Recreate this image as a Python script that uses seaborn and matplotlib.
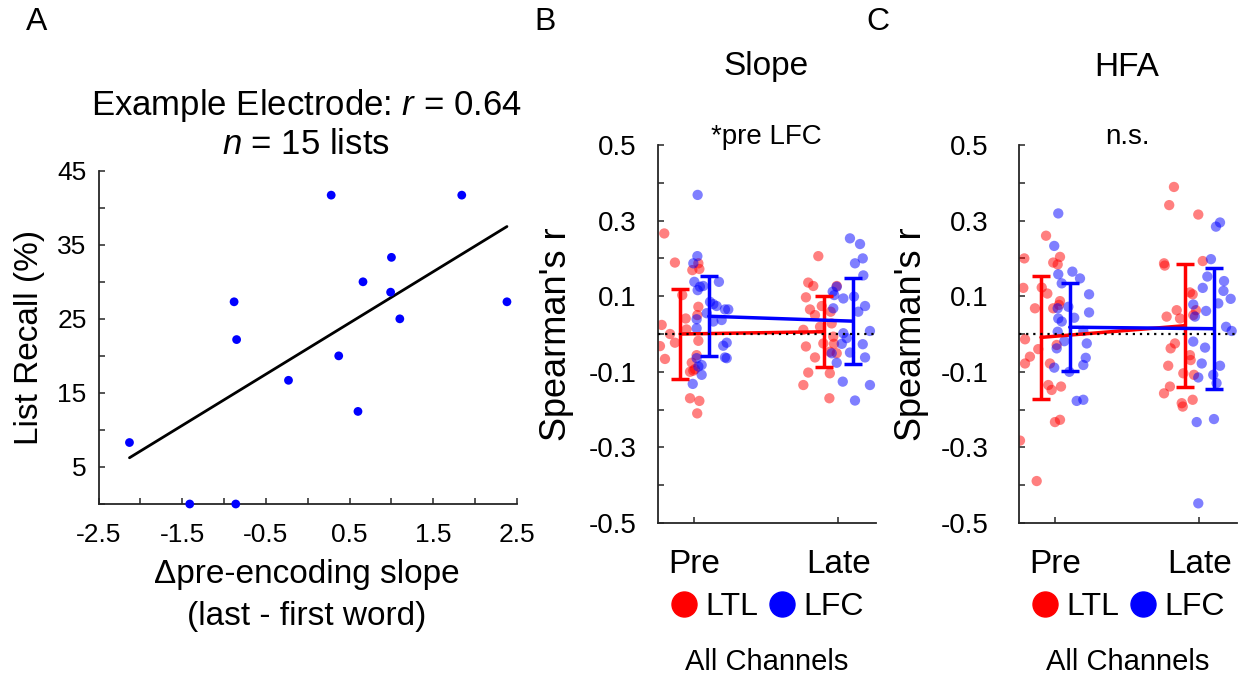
import numpy as np
import pandas as pd
import matplotlib
matplotlib.use("Agg")
import matplotlib.pyplot as plt
import seaborn as sns
from matplotlib.lines import Line2D

# ---------------- data ----------------
# Panel A: example electrode
slope_delta = [0.28, 1.84, 1.00, 0.66, 0.99, -0.88, 2.38, 1.10, -0.85, 0.37, -0.23, 0.60, -2.13, -1.41, -0.86]
list_recall = [41.7, 41.7, 33.3, 30.0, 28.6, 27.3, 27.3, 25.0, 22.2, 20.0, 16.7, 12.5, 8.3, 0.0, 0.0]

periods = ["Pre", "Late"]
regions = ["LTL", "LFC"]

# Panel B (Slope): Spearman's r per channel, with horizontal jitter
slope_pre_ltl = [0.266, 0.189, 0.169, 0.172, 0.187, 0.103, 0.072, 0.050, 0.041, 0.024, 0.012, 0.000,
                 -0.023, -0.032, -0.018, -0.066, -0.056, -0.076, -0.093, -0.100, -0.097, -0.170, -0.177, -0.210]
slope_pre_ltl_jit = [-0.21, -0.136, -0.015, 0.034, 0.027, -0.085, 0.027, 0.02, -0.061, -0.228, -0.055, -0.17,
                     -0.136, -0.24, 0.027, -0.205, 0.015, -0.019, 0.003, -0.031, -0.008, -0.031, 0.034, 0.019]
slope_pre_lfc = [0.368, 0.206, 0.187, 0.138, 0.125, 0.116, 0.127, 0.138, 0.085, 0.079, 0.074, 0.065, 0.065,
                 0.055, 0.033, 0.037, 0.039, 0.015, -0.023, -0.031, -0.062, -0.064, -0.064, -0.082, -0.086,
                 -0.108, -0.132]
slope_pre_lfc_jit = [0.022, 0.02, -0.008, -0.001, 0.038, 0.022, 0.061, 0.17, 0.108, 0.131, 0.154, 0.212, 0.235,
                     0.085, 0.131, 0.189, 0.015, 0.015, 0.224, 0.2, 0.212, 0.224, 0.015, 0.05, 0.027,
                     0.05, -0.012]
slope_late_ltl = [0.206, 0.136, 0.127, 0.097, 0.127, 0.074, 0.065, 0.059, 0.050, 0.028, 0.011, 0.019,
                  -0.025, -0.007, -0.026, -0.033, -0.062, -0.051, -0.047, -0.102, -0.104, -0.135, -0.170]
slope_late_ltl_jit = [-0.139, -0.209, -0.174, -0.225, -0.011, -0.115, -0.197, -0.053, -0.162, -0.046, -0.243,
                      -0.127, -0.104, -0.035, -0.03, -0.225, -0.162, -0.011, -0.059, -0.209, -0.059, -0.243,
                      -0.062]
slope_late_lfc = [0.253, 0.238, 0.200, 0.187, 0.155, 0.125, 0.112, 0.094, 0.099, 0.103, 0.068, 0.059, 0.074,
                  0.008, 0.002, -0.011, -0.026, -0.027, -0.049, -0.062, -0.076, -0.051, -0.126, -0.135, -0.176]
slope_late_lfc_jit = [0.081, 0.151, 0.17, 0.116, 0.174, -0.011, -0.039, 0.035, 0.109, -0.028, -0.035, 0.139,
                      0.186, 0.22, 0.035, 0.058, 0.024, 0.17, 0.081, 0.186, -0.011, -0.046, 0.031, 0.22, 0.116]

# Panel C (HFA)
hfa_pre_ltl = [0.260, 0.200, 0.204, 0.189, 0.184, 0.122, 0.123, 0.107, 0.068, 0.068, 0.087, 0.077, -0.014,
               -0.040, -0.060, -0.078, -0.078, -0.029, -0.135, -0.148, -0.139, -0.233, -0.227, -0.282, -0.389]
hfa_pre_ltl_jit = [-0.065, -0.216, 0.032, -0.015, 0.016, -0.223, -0.095, -0.056, -0.142, -0.015, 0.032, 0.025,
                   -0.211, -0.119, -0.177, -0.211, -0.038, 0.009, -0.049, -0.026, 0.039, -0.003, 0.032,
                   -0.246, -0.13]
hfa_pre_lfc = [0.319, 0.233, 0.158, 0.165, 0.147, 0.134, 0.105, 0.057, 0.068, 0.072, 0.043, 0.041, 0.033,
               0.006, 0.008, -0.019, -0.025, -0.038, -0.063, -0.082, -0.089, -0.100, -0.177, -0.174]
hfa_pre_lfc_jit = [0.02, -0.008, 0.02, 0.118, 0.171, 0.044, 0.234, 0.234, 0.016, 0.09, 0.131, 0.02, 0.044,
                   0.016, 0.194, 0.062, 0.218, 0.009, 0.211, 0.194, -0.008, 0.097, 0.148, 0.194]
hfa_late_ltl = [0.389, 0.341, 0.316, 0.187, 0.181, 0.193, 0.110, 0.105, 0.063, 0.063, 0.046, 0.041, 0.050,
                -0.025, -0.038, -0.056, -0.069, -0.084, -0.104, -0.108, -0.139, -0.157, -0.183, -0.192, -0.174]
hfa_late_ltl_jit = [-0.176, -0.209, -0.007, -0.245, -0.24, 0.024, -0.065, -0.046, -0.023, -0.157, -0.227,
                    -0.134, -0.042, -0.169, -0.199, -0.065, -0.06, -0.216, -0.111, -0.037, -0.204, -0.245,
                    -0.122, -0.115, -0.046]
hfa_late_lfc = [0.295, 0.284, 0.198, 0.152, 0.140, 0.114, 0.122, 0.093, 0.081, 0.078, 0.046, 0.061, 0.019,
                0.008, -0.020, -0.036, -0.078, -0.084, -0.108, -0.130, -0.115, -0.233, -0.225, -0.448]
hfa_late_lfc_jit = [0.144, 0.116, 0.081, 0.056, 0.172, 0.168, 0.024, 0.218, 0.132, -0.042, -0.03, 0.047,
                    0.186, 0.225, -0.042, 0.04, 0.017, 0.144, 0.097, 0.12, -0.007, -0.018, 0.102, -0.007]

# group means and error bar half-widths (Pre, Late)
slope_mean_ltl = [0.000, 0.006]
slope_err_ltl = [0.120, 0.094]
slope_mean_lfc = [0.047, 0.034]
slope_err_lfc = [0.106, 0.113]
hfa_mean_ltl = [-0.009, 0.022]
hfa_err_ltl = [0.162, 0.163]
hfa_mean_lfc = [0.018, 0.014]
hfa_err_lfc = [0.116, 0.160]

# ---------------- style ----------------
sns.set_style("white")
plt.rcParams["font.family"] = ["Liberation Sans", "DejaVu Sans"]
plt.rcParams["mathtext.fontset"] = "custom"
plt.rcParams["mathtext.rm"] = "Liberation Sans"
plt.rcParams["mathtext.it"] = "Liberation Sans:italic"
plt.rcParams["axes.unicode_minus"] = False
plt.rcParams["text.color"] = "black"
plt.rcParams["axes.labelcolor"] = "black"
plt.rcParams["xtick.color"] = "black"
plt.rcParams["ytick.color"] = "black"

RED = "#ff0000"
BLUE = "#0000ff"
SPINE = "#262626"

W, H = 1241, 676
fig = plt.figure(figsize=(W / 100, H / 100), dpi=100)


def px_axes(l, t, r, b):
    return fig.add_axes([l / W, 1 - b / H, (r - l) / W, (b - t) / H])


def ftext(x, y, s, **kw):
    fig.text(x / W, 1 - y / H, s, ha="center", va="center", color="black", **kw)


def style_axes(ax, ticklen):
    for side in ["top", "right"]:
        ax.spines[side].set_visible(False)
    for side in ["left", "bottom"]:
        ax.spines[side].set_linewidth(1.3)
        ax.spines[side].set_color(SPINE)
    ax.tick_params(which="both", direction="in", length=ticklen, width=1.1, color=SPINE,
                   labelcolor="black", bottom=True, left=True, top=False, right=False)


# ---------------- Panel A ----------------
axA = px_axes(98.5, 170.7, 517, 504)
sns.regplot(x=slope_delta, y=list_recall, ax=axA, scatter=False, ci=None, truncate=True,
            color="black", line_kws=dict(lw=2.0))
sns.scatterplot(x=slope_delta, y=list_recall, ax=axA, color=BLUE, s=40, edgecolor="none",
                linewidth=0, clip_on=False, zorder=4)
axA.set_xlim(-2.5, 2.5)
axA.set_ylim(0, 45)
axA.set_xticks([-2.5, -1.5, -0.5, 0.5, 1.5, 2.5], ["-2.5", "-1.5", "-0.5", "0.5", "1.5", "2.5"])
axA.set_xticks([-2, -1, 0, 1, 2], minor=True)
axA.set_yticks([5, 15, 25, 35, 45], ["5", "15", "25", "35", "45"])
axA.set_yticks([0, 10, 20, 30, 40], minor=True)
axA.set_xlabel("")
axA.set_ylabel("")
style_axes(axA, 4.5)
axA.tick_params(axis="both", labelsize=19)
axA.tick_params(axis="y", pad=8.5)
axA.tick_params(axis="x", pad=14)

ftext(37, 22, "A", fontsize=23)
ftext(306, 106, "Example Electrode: $r$ = 0.64", fontsize=25)
ftext(306, 145, "$n$ = 15 lists", fontsize=25)
ftext(307, 574, "\u0394pre-encoding slope", fontsize=24)
ftext(307, 616, "(last - first word)", fontsize=24)
ftext(30, 337, "List Recall (%)", fontsize=24, rotation=90)


# ---------------- Panels B and C ----------------
def long_frame(vals_jits):
    rows = []
    for (period, region), (vals, jits) in vals_jits.items():
        base = periods.index(period) + 1
        for v, j in zip(vals, jits):
            rows.append(dict(period=period, region=region, x=base + j, r=v))
    return pd.DataFrame(rows)


def draw_panel(ax, df, m_ltl, e_ltl, m_lfc, e_lfc, ypad):
    for region, col in [("LTL", RED), ("LFC", BLUE)]:
        sub = df[df.region == region]
        sns.scatterplot(data=sub, x="x", y="r", ax=ax, color=col, alpha=0.5, s=55,
                        edgecolor="none", linewidth=0, legend=False, zorder=2)
    pos = np.arange(1, len(periods) + 1)
    for means, errs, col, off in [(m_ltl, e_ltl, RED, -0.1), (m_lfc, e_lfc, BLUE, 0.1)]:
        sns.lineplot(x=pos + off, y=means, ax=ax, color=col, lw=2.5, zorder=3,
                     estimator=None, sort=False)
        ax.errorbar(pos + off, means, yerr=errs, fmt="none", ecolor=col, elinewidth=2.5,
                    capsize=6.5, capthick=2.5, zorder=3)
    ax.axhline(0, color="black", ls=(0, (1, 2.2)), lw=1.6, zorder=5)
    ax.set_xlim(0.745, 2.26)
    ax.set_ylim(-0.5, 0.5)
    ax.set_xticks(pos, periods)
    ax.set_yticks([-0.5, -0.3, -0.1, 0.1, 0.3, 0.5], ["-0.5", "-0.3", "-0.1", "0.1", "0.3", "0.5"])
    ax.set_yticks([-0.4, -0.2, 0.0, 0.2, 0.4], minor=True)
    ax.set_xlabel("")
    ax.set_ylabel("")
    style_axes(ax, 4)
    ax.tick_params(axis="y", labelsize=20, pad=ypad)
    ax.tick_params(axis="x", labelsize=24, pad=19)
    handles = [Line2D([], [], marker="o", ls="none", color=RED, markersize=18),
               Line2D([], [], marker="o", ls="none", color=BLUE, markersize=18)]
    ax.legend(handles, regions, loc="center", bbox_to_anchor=(0.5, -0.222), ncol=2,
              frameon=False, fontsize=23, handletextpad=0.2, columnspacing=0.3,
              handlelength=0.9, borderaxespad=0)
    ax.text(0.5, -0.368, "All Channels", transform=ax.transAxes, ha="center", va="center",
            fontsize=21, color="black")


dfB = long_frame({("Pre", "LTL"): (slope_pre_ltl, slope_pre_ltl_jit),
                  ("Pre", "LFC"): (slope_pre_lfc, slope_pre_lfc_jit),
                  ("Late", "LTL"): (slope_late_ltl, slope_late_ltl_jit),
                  ("Late", "LFC"): (slope_late_lfc, slope_late_lfc_jit)})
dfC = long_frame({("Pre", "LTL"): (hfa_pre_ltl, hfa_pre_ltl_jit),
                  ("Pre", "LFC"): (hfa_pre_lfc, hfa_pre_lfc_jit),
                  ("Late", "LTL"): (hfa_late_ltl, hfa_late_ltl_jit),
                  ("Late", "LFC"): (hfa_late_lfc, hfa_late_lfc_jit)})

axB = px_axes(657.8, 145, 875.7, 523)
draw_panel(axB, dfB, slope_mean_ltl, slope_err_ltl, slope_mean_lfc, slope_err_lfc, 15.5)
axC = px_axes(1018.7, 145, 1236.7, 523)
draw_panel(axC, dfC, hfa_mean_ltl, hfa_err_ltl, hfa_mean_lfc, hfa_err_lfc, 21.5)

ftext(545, 22, "B", fontsize=23)
ftext(878, 22, "C", fontsize=23)
ftext(766, 67, "Slope", fontsize=24)
ftext(1127, 67, "HFA", fontsize=24)
ftext(766, 137, "*pre LFC", fontsize=20)
ftext(1127, 137, "n.s.", fontsize=20)
ftext(556, 334, "Spearman's r", fontsize=26, rotation=90)
ftext(911, 334, "Spearman's r", fontsize=26, rotation=90)

fig.savefig("out.png", dpi=100)
